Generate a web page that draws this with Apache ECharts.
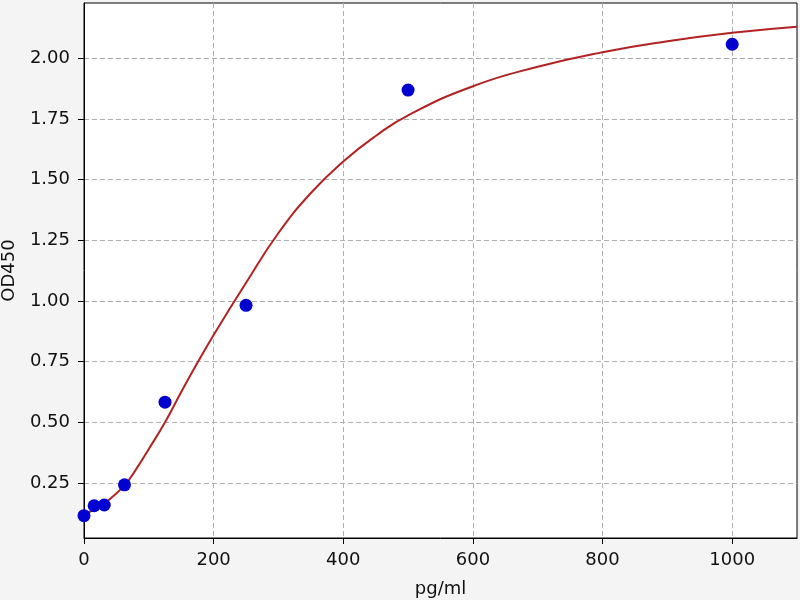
<!DOCTYPE html>
<html lang="en">
<head>
<meta charset="utf-8">
<title>OD450 standard curve</title>
<script src="https://cdn.jsdelivr.net/npm/echarts@6/dist/echarts.min.js"></script>
<style>
  html, body { margin: 0; padding: 0; background: #f4f4f4; }
  #main { width: 800px; height: 600px; }
</style>
</head>
<body>
<div id="main"></div>
<script>
// standard points (concentration, OD)
var conc = [0, 15.625, 31.25, 62.5, 125, 250, 500, 1000];
var od = [0.115, 0.156, 0.159, 0.242, 0.583, 0.982, 1.869, 2.058];

// fitted curve
var fitX = [0, 15.625, 31.25, 62.5, 80, 100, 125, 150, 175, 200, 250, 300, 350, 400, 450, 500, 600, 700, 800, 900, 1000, 1100];
var fitY = [0.12, 0.14, 0.165, 0.24, 0.305, 0.39, 0.50, 0.625, 0.745, 0.86, 1.075, 1.28, 1.445, 1.575, 1.68, 1.765, 1.885, 1.965, 2.025, 2.07, 2.105, 2.13];

var xTicks = [0, 200, 400, 600, 800, 1000];
var yTicks = [0.25, 0.5, 0.75, 1.0, 1.25, 1.5, 1.75, 2.0];

var pts = conc.map(function (c, i) { return [c, od[i]]; });
var fit = fitX.map(function (x, i) { return [x, fitY[i]]; });

var font = 'DejaVu Sans';
var grid = { color: '#b0b0b0', width: 1, type: [5, 3] };

var chart = echarts.init(document.getElementById('main'));
chart.setOption({
  animation: false,
  backgroundColor: '#f4f4f4',
  grid: {
    left: 84, right: 3, top: 3, bottom: 62,
    containLabel: false, outerBoundsMode: 'none',
    show: true, backgroundColor: '#ffffff', borderColor: '#000', borderWidth: 1
  },
  xAxis: {
    type: 'value', min: 0, max: 1100,
    name: 'pg/ml', nameLocation: 'middle', nameGap: 42,
    nameTextStyle: { fontFamily: font, fontSize: 18, color: '#111' },
    axisLine: { show: true, lineStyle: { color: '#000', width: 1 } },
    axisTick: { show: true, length: 6, customValues: xTicks, lineStyle: { color: '#000' } },
    axisLabel: {
      customValues: xTicks, margin: 13, fontFamily: font, fontSize: 18, color: '#111',
      formatter: function (v) { return String(v); }
    },
    splitLine: { show: true, lineStyle: grid }
  },
  yAxis: {
    type: 'value', min: 0.023, max: 2.228,
    name: 'OD450', nameLocation: 'middle', nameGap: 66,
    nameTextStyle: { fontFamily: font, fontSize: 18, color: '#111' },
    axisLine: { show: true, lineStyle: { color: '#000', width: 1 } },
    axisTick: { show: true, length: 6, customValues: yTicks, lineStyle: { color: '#000' } },
    axisLabel: {
      customValues: yTicks, margin: 14, fontFamily: font, fontSize: 18, color: '#111',
      formatter: function (v) { return v.toFixed(2); }
    },
    splitLine: { show: true, lineStyle: grid }
  },
  series: [
    {
      type: 'line', data: fit, smooth: 0.5, showSymbol: false, z: 2,
      lineStyle: { color: '#b22222', width: 2 }
    },
    {
      type: 'scatter', data: pts, symbolSize: 13, z: 3,
      itemStyle: { color: '#0000d0', opacity: 1 }
    }
  ]
});
</script>
</body>
</html>
